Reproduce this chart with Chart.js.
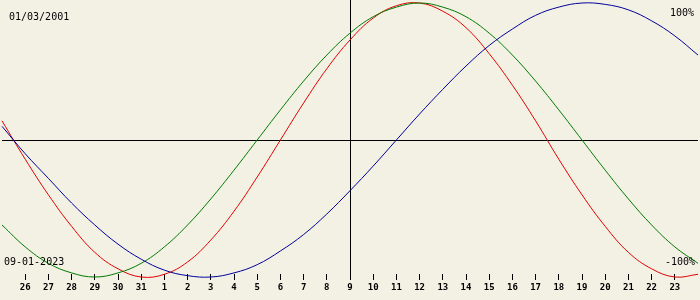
<!DOCTYPE html>
<html>
<head>
<meta charset="utf-8">
<script src="https://cdn.jsdelivr.net/npm/chart.js@4/dist/chart.umd.min.js"></script>
<style>
  html, body { margin: 0; padding: 0; background: #f3f0e4; }
  canvas { display: block; }
</style>
</head>
<body>
<canvas id="bioChart" width="700" height="300"></canvas>
<script>
// days shown, Dec 25 .. Jan 24 (first and last have no tick)
const days = ['25', '26', '27', '28', '29', '30', '31', '1', '2', '3', '4', '5', '6', '7', '8', '9',
  '10', '11', '12', '13', '14', '15', '16', '17', '18', '19', '20', '21', '22', '23', '24'];

// -1 .. 1
const physical = [0.14, -0.14, -0.40, -0.63, -0.82, -0.94, -1.00, -0.98, -0.89, -0.73, -0.52, -0.27, 0.00, 0.27, 0.52, 0.73,
  0.89, 0.98, 1.00, 0.94, 0.82, 0.63, 0.40, 0.14, -0.14, -0.40, -0.63, -0.82, -0.94, -1.00, -0.98];
const emotional = [-0.62, -0.78, -0.90, -0.97, -1.00, -0.97, -0.90, -0.78, -0.62, -0.43, -0.22, 0.00, 0.22, 0.43, 0.62, 0.78,
  0.90, 0.97, 1.00, 0.97, 0.90, 0.78, 0.62, 0.43, 0.22, 0.00, -0.22, -0.43, -0.62, -0.78, -0.90];
const intellectual = [0.10, -0.10, -0.28, -0.46, -0.62, -0.76, -0.87, -0.95, -0.99, -1.00, -0.97, -0.91, -0.81, -0.69, -0.54, -0.37,
  -0.19, 0.00, 0.19, 0.37, 0.54, 0.69, 0.81, 0.91, 0.97, 1.00, 0.99, 0.95, 0.87, 0.76, 0.62];

const birthDate = '01/03/2001';
const targetDate = '09-01-2023';
const todayIndex = 15;

const MONO = "'DejaVu Sans Mono', monospace";

// corner texts
const cornerText = {
    id: 'cornerText',
    afterDraw(chart) {
        const ctx = chart.ctx;
        ctx.save();
        ctx.fillStyle = '#000';
        ctx.font = '10px ' + MONO;
        ctx.textBaseline = 'middle';
        ctx.textAlign = 'left';
        ctx.fillText(birthDate, 9, 17);
        ctx.fillText(targetDate, 4, 262);
        ctx.textAlign = 'right';
        ctx.fillText('100%', 694, 13);
        ctx.fillText('-100%', 695, 262);
        ctx.restore();
    }
};

const line = (data, color) => ({
    data: data,
    borderColor: color,
    borderWidth: 1,
    pointRadius: 0,
    tension: 0.4,
    fill: false,
    clip: false
});

new Chart(document.getElementById('bioChart'), {
    type: 'line',
    data: {
        labels: days,
        datasets: [
            line(intellectual, '#00009a'),
            line(emotional, '#007a00'),
            line(physical, '#e00000')
        ]
    },
    options: {
        responsive: false,
        animation: false,
        layout: { padding: 0 },
        plugins: { legend: { display: false }, tooltip: { enabled: false } },
        scales: {
            x: {
                type: 'category',
                offset: false,
                border: { display: false },
                afterFit: s => { s.height = 26; },
                grid: {
                    drawOnChartArea: true,
                    drawTicks: true,
                    tickLength: 6,
                    lineWidth: 1,
                    color: c => c.index === todayIndex ? '#000' : 'rgba(0,0,0,0)',
                    tickColor: c => (c.index === 0 || c.index === days.length - 1) ? 'rgba(0,0,0,0)' : '#000'
                },
                ticks: {
                    autoSkip: false,
                    maxRotation: 0,
                    padding: 2,
                    color: '#000',
                    font: { family: MONO, size: 9, weight: 'bold' },
                    callback: (v, i) => (i === 0 || i === days.length - 1) ? '' : days[i]
                }
            },
            y: {
                min: -0.978,
                max: 1.022,
                border: { display: false },
                afterFit: s => { s.width = 0; },
                afterBuildTicks: s => { s.ticks = [{ value: 0 }]; },
                grid: { drawTicks: false, color: '#000', lineWidth: 1 },
                ticks: { display: false }
            }
        }
    },
    plugins: [cornerText]
});
</script>
</body>
</html>
